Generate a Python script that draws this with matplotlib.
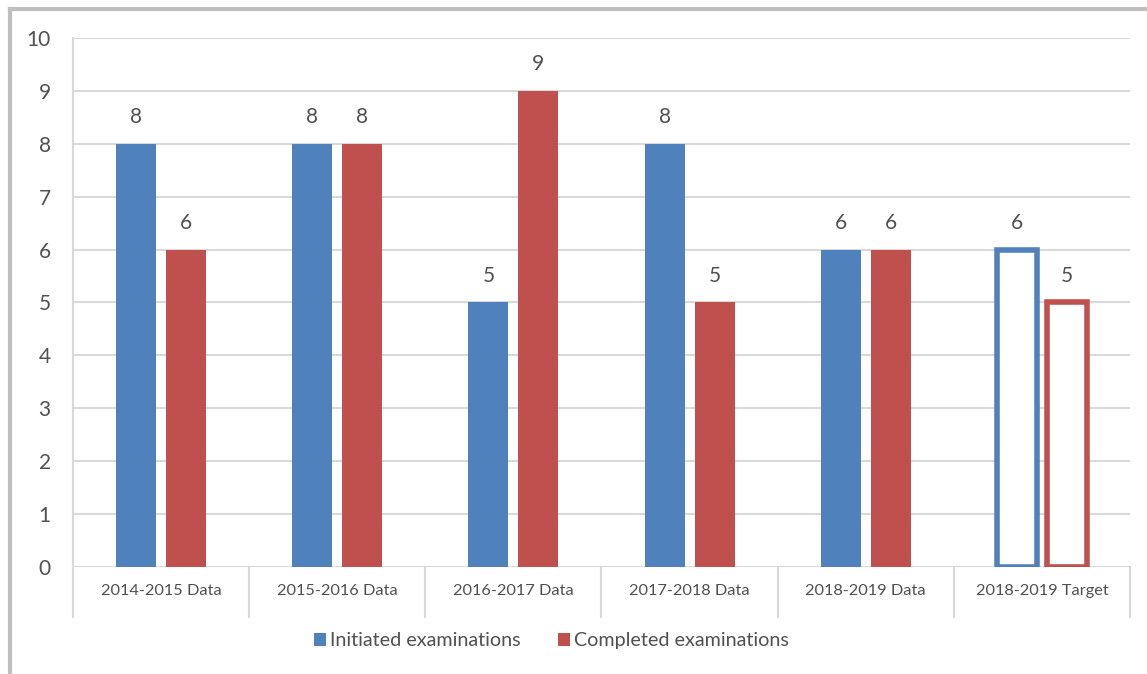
import matplotlib.pyplot as plt
import matplotlib.transforms as mtransforms
from matplotlib.patches import Patch
import numpy as np

categories = ["2014-2015 Data", "2015-2016 Data", "2016-2017 Data",
              "2017-2018 Data", "2018-2019 Data", "2018-2019 Target"]
initiated = [8, 8, 5, 8, 6, 6]
completed = [6, 8, 9, 5, 6, 5]
is_target = [False, False, False, False, False, True]

BLUE = "#4F81BD"
RED = "#C0504D"
TEXT = "#505050"
GRID = "#D9D9D9"

plt.rcParams['font.family'] = ['Lato', 'DejaVu Sans']

fig = plt.figure(figsize=(11.47, 6.74), dpi=100)
fig.patch.set_facecolor("white")
ax = fig.add_axes([0.0636, 0.1588, 0.9216, 0.7848])

x = np.arange(len(categories))
width = 0.227
offset = 0.142

for xi, val, target in zip(x - offset, initiated, is_target):
    if target:
        ax.bar(xi, val, width, facecolor="white", edgecolor=BLUE, linewidth=4, zorder=3)
    else:
        ax.bar(xi, val, width, color=BLUE, zorder=3)
for xi, val, target in zip(x + offset, completed, is_target):
    if target:
        ax.bar(xi, val, width, facecolor="white", edgecolor=RED, linewidth=4, zorder=3)
    else:
        ax.bar(xi, val, width, color=RED, zorder=3)

# data labels
for xi, val in zip(x - offset, initiated):
    ax.annotate(str(val), (xi, val), xytext=(0, 12), textcoords="offset points",
                ha="center", va="bottom", fontsize=15, color=TEXT)
for xi, val in zip(x + offset, completed):
    ax.annotate(str(val), (xi, val), xytext=(0, 12), textcoords="offset points",
                ha="center", va="bottom", fontsize=15, color=TEXT)

ax.set_xlim(-0.5, len(categories) - 0.5)
ax.set_ylim(0, 10)
ax.set_yticks(range(0, 11))
ax.yaxis.grid(True, color=GRID, linewidth=1.5, zorder=0)
ax.tick_params(axis="y", length=0, pad=16, labelsize=15, labelcolor=TEXT)
ax.set_xticks([])

for side in ["top", "right", "bottom", "left"]:
    ax.spines[side].set_visible(False)

# category boxes below the axis
trans = mtransforms.blended_transform_factory(ax.transData, ax.transAxes)
for b in np.arange(-0.5, len(categories), 1.0):
    top = 1.0 if b == -0.5 else 0.0
    ax.plot([b, b], [-0.095, top], transform=trans, color=GRID, linewidth=1.5,
            clip_on=False, zorder=1)
for xi, name in zip(x, categories):
    ax.text(xi, -0.045, name, transform=trans, ha="center", va="center",
            fontsize=11.8, color=TEXT)

handles = [Patch(facecolor=BLUE, label="Initiated examinations"),
           Patch(facecolor=RED, label="Completed examinations")]
fig.legend(handles=handles, loc="center", bbox_to_anchor=(0.481, 0.049), ncol=2,
           frameon=False, fontsize=14.2, labelcolor=TEXT, handlelength=0.6,
           handleheight=0.6, handletextpad=0.2, columnspacing=1.9)

# outer chart border (only top and left visible)
fig.add_artist(plt.Line2D([0.0083, 1.0], [0.9866, 0.9866], transform=fig.transFigure,
                          color="#BFBFBF", linewidth=3))
fig.add_artist(plt.Line2D([0.0083, 0.0083], [0.0, 0.9866], transform=fig.transFigure,
                          color="#BFBFBF", linewidth=3))

fig.savefig("out.png", dpi=100)
